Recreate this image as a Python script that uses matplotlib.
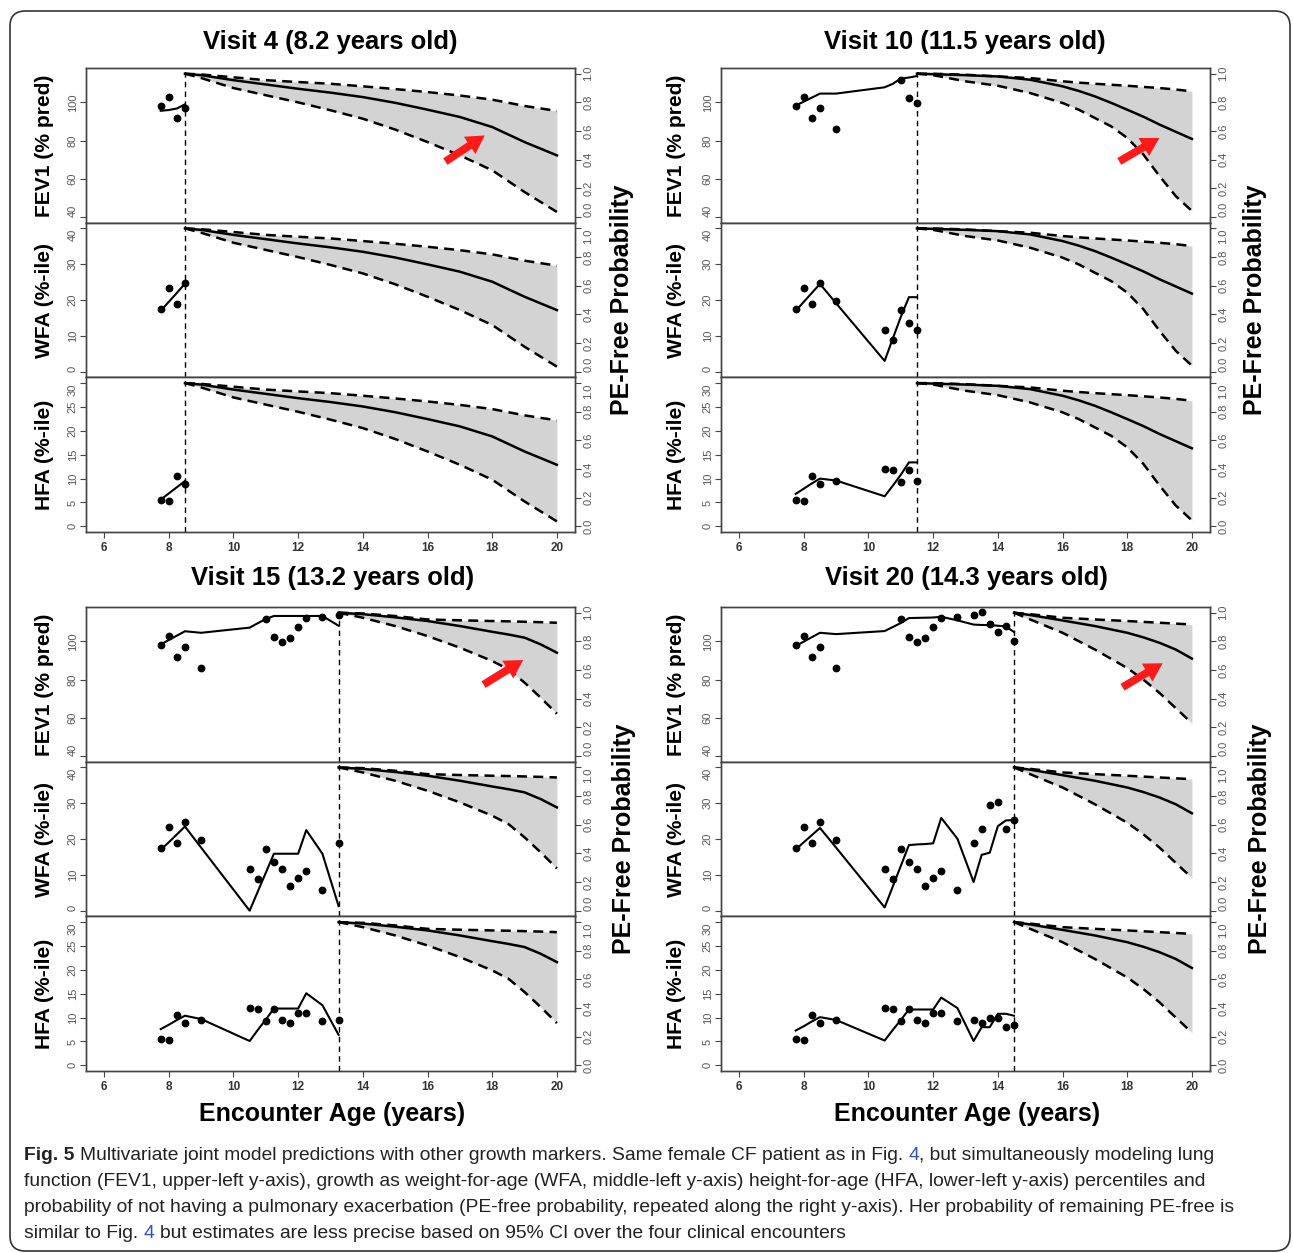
import numpy as np
import matplotlib.pyplot as plt
from matplotlib import font_manager
from matplotlib.patches import FancyBboxPatch, FancyArrowPatch

# narrow font for the big labels (the reference is horizontally squeezed)
names = {f.name for f in font_manager.fontManager.ttflist}
NARROW = 'Liberation Sans Narrow' if 'Liberation Sans Narrow' in names else 'Liberation Sans'
K = 1.0 if NARROW == 'Liberation Sans Narrow' else 0.82
plt.rcParams['font.family'] = [NARROW, 'DejaVu Sans']

W, H = 1293, 1253

# ---- data ----
ages = [7.75, 8.0, 8.25, 8.5, 9.0, 10.5, 10.75, 11.0, 11.25, 11.5,
        11.75, 12.0, 12.25, 12.75, 13.25, 13.5, 13.75, 14.0, 14.25, 14.5]
fev1_obs = [97.9, 102.6, 91.8, 96.9, 86.2, np.nan, np.nan, 111.9, 102.4, 99.7,
            101.7, 107.3, 112.4, 112.9, 114.0, 115.4, 109.1, 105.1, 107.9, 100.2]
wfa_obs = [17.4, 23.3, 18.8, 24.9, 19.7, 11.7, 8.9, 17.3, 13.7, 11.7,
           7.0, 9.1, 11.2, 5.9, 18.8, 22.8, 29.6, 30.4, 22.8, 25.2]
hfa_obs = [5.6, 5.3, 10.6, 8.8, 9.6, 12.0, 11.9, 9.2, 11.8, 9.5,
           8.8, 10.9, 10.9, 9.2, 9.6, 8.8, 9.9, 9.9, 8.1, 8.5]

visits = [4, 10, 15, 20]
visit_age = [8.2, 11.5, 13.2, 14.3]

# fitted trajectories at each visit age, one set per prediction visit
fev1_fit_v4 = [95.6, 96.0, 96.8, 99.0]
wfa_fit_v4 = [17.0, 19.5, 22.0, 24.6]
hfa_fit_v4 = [5.6, 6.9, 8.2, 9.5]

fev1_fit_v10 = [98.3, 100.4, 102.5, 104.6, 104.6, 107.9, 109.7, 112.5, 113.0, 113.8]
wfa_fit_v10 = [17.0, 19.5, 22.0, 24.5, 19.1, 3.0, 9.2, 15.3, 20.8, 20.8]
hfa_fit_v10 = [6.8, 7.9, 9.0, 10.0, 9.6, 6.3, 8.5, 10.8, 13.4, 13.4]

fev1_fit_v15 = [98.4, 100.7, 103.0, 105.3, 104.5, 107.2, 109.5, 111.7, 113.3, 113.3,
                113.3, 113.3, 113.3, 113.3, 108.2]
wfa_fit_v15 = [17.0, 19.1, 21.3, 23.5, 17.6, 0.0, 5.3, 10.6, 15.9, 15.9,
               15.9, 15.9, 22.5, 15.9, 1.3]
hfa_fit_v15 = [7.6, 8.5, 9.5, 10.4, 9.7, 5.1, 7.4, 9.6, 11.9, 11.9,
               11.9, 11.9, 15.1, 12.6, 6.4]

fev1_fit_v20 = [97.6, 99.9, 102.2, 104.5, 103.8, 105.4, 107.5, 109.6, 112.2, 112.3,
                112.4, 112.5, 112.9, 111.0, 108.8, 108.6, 108.5, 108.2, 107.8, 104.9]
wfa_fit_v20 = [17.1, 19.1, 21.1, 23.1, 17.6, 0.9, 6.7, 12.5, 18.3, 18.5,
               18.6, 18.8, 25.9, 20.1, 8.0, 15.6, 16.2, 23.6, 25.2, 25.3]
hfa_fit_v20 = [7.3, 8.2, 9.2, 10.1, 9.5, 5.2, 7.4, 9.5, 11.7, 11.7,
               11.7, 11.7, 14.2, 12.0, 5.1, 8.0, 8.0, 10.8, 10.8, 10.4]

# PE-free probability (mean, 95% CI) after each prediction visit
pe_age_v4 = [8.5, 9, 10, 11, 12, 13, 14, 15, 16, 17, 18, 19, 20]
pe_mean_v4 = [1.0, 0.99, 0.955, 0.925, 0.895, 0.868, 0.837, 0.797, 0.749, 0.698, 0.628, 0.523, 0.43]
pe_hi_v4 = [1.0, 0.995, 0.975, 0.955, 0.942, 0.93, 0.912, 0.893, 0.872, 0.848, 0.819, 0.775, 0.74]
pe_lo_v4 = [1.0, 0.97, 0.90, 0.85, 0.80, 0.745, 0.686, 0.61, 0.523, 0.43, 0.326, 0.174, 0.035]

pe_age_v10 = [11.5, 12, 13, 14, 15, 16, 16.5, 17, 17.5, 18, 18.5, 19, 19.5, 20]
pe_mean_v10 = [1.0, 0.997, 0.99, 0.981, 0.958, 0.912, 0.88, 0.842, 0.797, 0.749, 0.70, 0.645, 0.595, 0.545]
pe_hi_v10 = [1.0, 1.0, 0.993, 0.981, 0.97, 0.947, 0.938, 0.93, 0.923, 0.916, 0.908, 0.90, 0.89, 0.877]
pe_lo_v10 = [1.0, 0.99, 0.947, 0.916, 0.865, 0.796, 0.749, 0.691, 0.633, 0.552, 0.436, 0.285, 0.146, 0.042]

pe_age_v15 = [13.25, 14, 15, 16, 17, 18, 18.5, 19, 19.5, 20]
pe_mean_v15 = [1.0, 0.99, 0.968, 0.942, 0.907, 0.867, 0.848, 0.826, 0.779, 0.721]
pe_hi_v15 = [1.0, 0.995, 0.977, 0.953, 0.947, 0.942, 0.94, 0.937, 0.934, 0.93]
pe_lo_v15 = [1.0, 0.965, 0.907, 0.837, 0.756, 0.663, 0.605, 0.512, 0.407, 0.295]

pe_age_v20 = [14.5, 15, 16, 17, 18, 18.5, 19, 19.5, 20]
pe_mean_v20 = [1.0, 0.984, 0.946, 0.907, 0.86, 0.828, 0.79, 0.743, 0.68]
pe_hi_v20 = [1.0, 0.99, 0.965, 0.953, 0.942, 0.936, 0.93, 0.924, 0.918]
pe_lo_v20 = [1.0, 0.953, 0.86, 0.743, 0.614, 0.533, 0.44, 0.334, 0.229]

fits = [(fev1_fit_v4, wfa_fit_v4, hfa_fit_v4),
        (fev1_fit_v10, wfa_fit_v10, hfa_fit_v10),
        (fev1_fit_v15, wfa_fit_v15, hfa_fit_v15),
        (fev1_fit_v20, wfa_fit_v20, hfa_fit_v20)]
pes = [(pe_age_v4, pe_mean_v4, pe_lo_v4, pe_hi_v4),
       (pe_age_v10, pe_mean_v10, pe_lo_v10, pe_hi_v10),
       (pe_age_v15, pe_mean_v15, pe_lo_v15, pe_hi_v15),
       (pe_age_v20, pe_mean_v20, pe_lo_v20, pe_hi_v20)]
obs = [fev1_obs, wfa_obs, hfa_obs]

ylabels = ['FEV1 (% pred)', 'WFA (%-ile)', 'HFA (%-ile)']
ylims = [(37, 118), (-1.6, 41.6), (-1.2, 31.2)]
yticks = [[40, 60, 80, 100], [0, 10, 20, 30, 40], [0, 5, 10, 15, 20, 25, 30]]

# red arrows (tail, head) in (age, probability) of the FEV1 row
arrows = [((16.48, 0.376), (17.84, 0.58)), ((17.68, 0.378), (19.07, 0.562)),
          ((17.66, 0.488), (19.03, 0.68)), ((17.78, 0.47), (19.17, 0.657))]

# ---- layout (pixels) ----
pan_l = [86, 721, 86, 721]
pan_r = [575, 1210, 575, 1210]
pan_t = [68, 68, 607, 607]
sub_h = 154.7
title_xy = [(330, 42), (965, 42), (333, 578), (966, 578)]
lab_x = [44, 676, 44, 677]
rlab_x = [622, 1255, 624, 1260]

fig = plt.figure(figsize=(W / 100, H / 100), dpi=100)


def px_rect(l, r, t, b):
    return [l / W, 1 - b / H, (r - l) / W, (b - t) / H]


def fx(x):
    return x / W


def fy(y):
    return 1 - y / H


def style_ylabels(a, k):
    labs = a.get_yticklabels()
    for lab in labs:
        lab.set_family('Liberation Sans')
        lab.set_va('center')
    # keep the labels at the joins between rows from running into each other
    if k > 0:
        labs[-1].set_va('top')
    if k < 2:
        labs[0].set_va('bottom')


GRAY = '#444444'
TICKC = '#555555'

for p in range(4):
    n = visits[p]
    cut = ages[n - 1]
    pe_age, pe_mean, pe_lo, pe_hi = pes[p]
    for k in range(3):
        t = pan_t[p] + k * sub_h
        ax = fig.add_axes(px_rect(pan_l[p], pan_r[p], t, t + sub_h))
        ax.set_xlim(5.44, 20.56)
        ax.set_ylim(*ylims[k])
        ax.plot(ages[:n], fits[p][k], color='k', lw=1.5, zorder=3)
        ax.plot(ages[:n], obs[k][:n], 'o', color='k', ms=4.6, zorder=4)
        ax.axvline(cut, color='k', lw=1.0, dashes=(4, 3), zorder=2)
        ax.set_yticks(yticks[k])
        ax.tick_params(axis='y', length=4, width=0.8, color=GRAY, labelsize=8,
                       labelcolor=TICKC, labelrotation=90, pad=2)
        style_ylabels(ax, k)
        if k == 2:
            ax.set_xticks(range(6, 21, 2))
            ax.tick_params(axis='x', length=4, width=0.8, color=GRAY, labelsize=8.5,
                           labelcolor='#333333', pad=3)
            for lab in ax.get_xticklabels():
                lab.set_family('Liberation Sans')
                lab.set_fontweight('bold')
        else:
            ax.tick_params(axis='x', bottom=False, labelbottom=False)
        for s in ax.spines.values():
            s.set_color(GRAY)
            s.set_linewidth(1.0)

        ax2 = ax.twinx()
        ax2.set_ylim(-0.04, 1.04)
        ax2.fill_between(pe_age, pe_lo, pe_hi, color='#d3d3d3', lw=0, zorder=1)
        ax2.plot(pe_age, pe_hi, color='k', lw=1.8, dashes=(4, 2.5), zorder=2)
        ax2.plot(pe_age, pe_lo, color='k', lw=1.8, dashes=(4, 2.5), zorder=2)
        ax2.plot(pe_age, pe_mean, color='k', lw=1.8, zorder=3)
        ax2.set_yticks([0, 0.2, 0.4, 0.6, 0.8, 1.0])
        ax2.set_yticklabels(['0.0', '0.2', '0.4', '0.6', '0.8', '1.0'])
        ax2.tick_params(axis='y', length=4, width=0.8, color=GRAY, labelsize=8,
                        labelcolor=TICKC, labelrotation=90, pad=2)
        style_ylabels(ax2, k)
        for s in ax2.spines.values():
            s.set_color(GRAY)
            s.set_linewidth(1.0)

        if k == 0:
            tail, head = arrows[p]
            ax2.add_patch(FancyArrowPatch(tail, head,
                                          arrowstyle='simple,head_width=0.75,head_length=0.65,tail_width=0.28',
                                          mutation_scale=20, color='#ff1a1a', lw=0, zorder=5))

        fig.text(fx(lab_x[p]), fy(t + sub_h / 2), ylabels[k], rotation=90,
                 ha='center', va='center', fontsize=18.5 * K, fontweight='bold')

    bottom = pan_t[p] + 3 * sub_h
    fig.text(fx(rlab_x[p]), fy((pan_t[p] + bottom) / 2), 'PE-Free Probability',
             rotation=90, ha='center', va='center', fontsize=22 * K, fontweight='bold')
    fig.text(fx(title_xy[p][0]), fy(title_xy[p][1]),
             'Visit %d (%.1f years old)' % (visits[p], visit_age[p]),
             ha='center', va='center', fontsize=22.5 * K, fontweight='bold')
    if p >= 2:
        fig.text(fx((pan_l[p] + pan_r[p]) / 2 + 2), fy(1114), 'Encounter Age (years)',
                 ha='center', va='center', fontsize=22 * K, fontweight='bold')

# ---- frame ----
fig.patches.append(FancyBboxPatch((fx(10), fy(1251)), fx(1280), (1251 - 11) / H,
                                  boxstyle='round,pad=0,rounding_size=0.012',
                                  transform=fig.transFigure, fill=False,
                                  edgecolor='#333333', lw=1.2))

# ---- caption ----
BLUE = '#2b50c8'
cap_lines = [
    [('Fig. 5', 'bold', 'k', False),
     ('Multivariate joint model predictions with other growth markers. Same female CF patient as in Fig.', 'normal', 'k', True),
     ('4', 'normal', BLUE, True),
     (', but simultaneously modeling lung', 'normal', 'k', False)],
    [('function (FEV1, upper-left y-axis), growth as weight-for-age (WFA, middle-left y-axis) height-for-age (HFA, lower-left y-axis) percentiles and', 'normal', 'k', False)],
    [('probability of not having a pulmonary exacerbation (PE-free probability, repeated along the right y-axis). Her probability of remaining PE-free is', 'normal', 'k', False)],
    [('similar to Fig.', 'normal', 'k', False),
     ('4', 'normal', BLUE, True),
     ('but estimates are less precise based on 95% CI over the four clinical encounters', 'normal', 'k', True)],
]
cap_y = [1155, 1181, 1208, 1234]
cap_size = 16.9 * K
renderer = fig.canvas.get_renderer()
probe1 = fig.text(0, 0, 'x x', fontsize=cap_size)
probe2 = fig.text(0, 0, 'xx', fontsize=cap_size)
space_w = (probe1.get_window_extent(renderer).width - probe2.get_window_extent(renderer).width)
probe1.remove()
probe2.remove()

for parts, y in zip(cap_lines, cap_y):
    x = 24.0
    for text, weight, color, sp in parts:
        if sp:
            x += space_w
        tt = fig.text(fx(x), fy(y), text, fontsize=cap_size, fontweight=weight,
                      color=color if color != 'k' else '#222222', ha='left', va='center')
        x = tt.get_window_extent(renderer).x1

fig.savefig('out.png', dpi=100)
